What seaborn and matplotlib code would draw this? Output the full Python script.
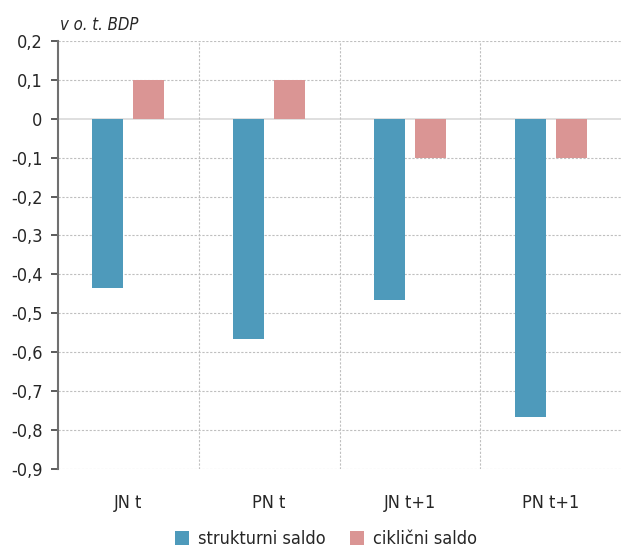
import matplotlib
matplotlib.use("Agg")
import matplotlib.pyplot as plt
import seaborn as sns
import pandas as pd
from matplotlib.ticker import FixedLocator, FuncFormatter
from matplotlib import font_manager as fm

categories = ["JN t", "PN t", "JN t+1", "PN t+1"]
strukturni = [-0.434, -0.566, -0.466, -0.766]
ciklicni = [0.1, 0.1, -0.1, -0.1]
series_names = ["strukturni saldo", "ciklični saldo"]
yticks = [0.2, 0.1, 0.0, -0.1, -0.2, -0.3, -0.4, -0.5, -0.6, -0.7, -0.8, -0.9]

df = pd.DataFrame({
    "cat": categories * 2,
    "series": [series_names[0]] * 4 + [series_names[1]] * 4,
    "val": strukturni + ciklicni,
})

sns.set_theme(style="white")
names = {f.name for f in fm.fontManager.ttflist}
fam = [n for n in ["Liberation Sans Narrow", "DejaVu Sans"] if n in names]
plt.rcParams['font.family'] = fam
plt.rcParams['font.stretch'] = 'condensed'

fig = plt.figure(figsize=(6.21, 5.51), dpi=100)
ax = fig.add_axes([0.0934, 0.149, 0.9066, 0.7766])

palette = {series_names[0]: "#4E9ABB", series_names[1]: "#DA9594"}
sns.barplot(data=df, x="cat", y="val", hue="series", order=categories,
            hue_order=series_names, palette=palette, width=0.58,
            saturation=1, ax=ax, legend=True, linewidth=0)

for p in ax.patches:
    if p.get_width() > 0 and p.get_height() != 0:
        c = p.get_x() + p.get_width() / 2
        p.set_width(0.22)
        p.set_x(c - 0.11)

ax.set_xlim(-0.5, 3.5)
ax.set_ylim(-0.9, 0.2)
ax.yaxis.set_major_locator(FixedLocator(yticks))
ax.yaxis.set_major_formatter(FuncFormatter(lambda v, pos: ("0" if abs(v) < 1e-9 else f"{v:.1f}".replace(".", ","))))

for y in yticks:
    if abs(y) < 1e-9:
        ax.axhline(0, color="#d9d9d9", lw=1.2, zorder=0.5)
    else:
        ax.axhline(y, color="#bfbfbf", lw=0.8, ls=(0, (2, 1.5)), zorder=0.5)
for x in [0.5, 1.5, 2.5]:
    ax.axvline(x, color="#bfbfbf", lw=0.8, ls=(0, (2, 1.5)), zorder=0.5)

for s in ["top", "right", "bottom"]:
    ax.spines[s].set_visible(False)
ax.spines["left"].set_color("#707070")
ax.spines["left"].set_linewidth(1.5)
ax.tick_params(axis="y", which="major", left=True, length=5, width=1.2, color="#404040",
               labelsize=13, labelcolor="#262626", pad=6)
ax.tick_params(axis="x", bottom=False, labelsize=13, labelcolor="#262626", pad=12)
ax.set_xlabel("")
ax.set_ylabel("")

fig.text(0.097, 0.955, "v o. t. BDP", fontsize=12, style="italic", color="#262626",
         ha="left", va="center")

leg = ax.get_legend()
handles = leg.legend_handles
leg.remove()
fig.legend(handles, series_names, loc="center", bbox_to_anchor=(0.525, 0.022),
           ncol=2, frameon=False, fontsize=13, handlelength=0.8, handleheight=0.8,
           columnspacing=1.3, handletextpad=0.5, labelcolor="#262626")

fig.savefig("out.png", dpi=100)
